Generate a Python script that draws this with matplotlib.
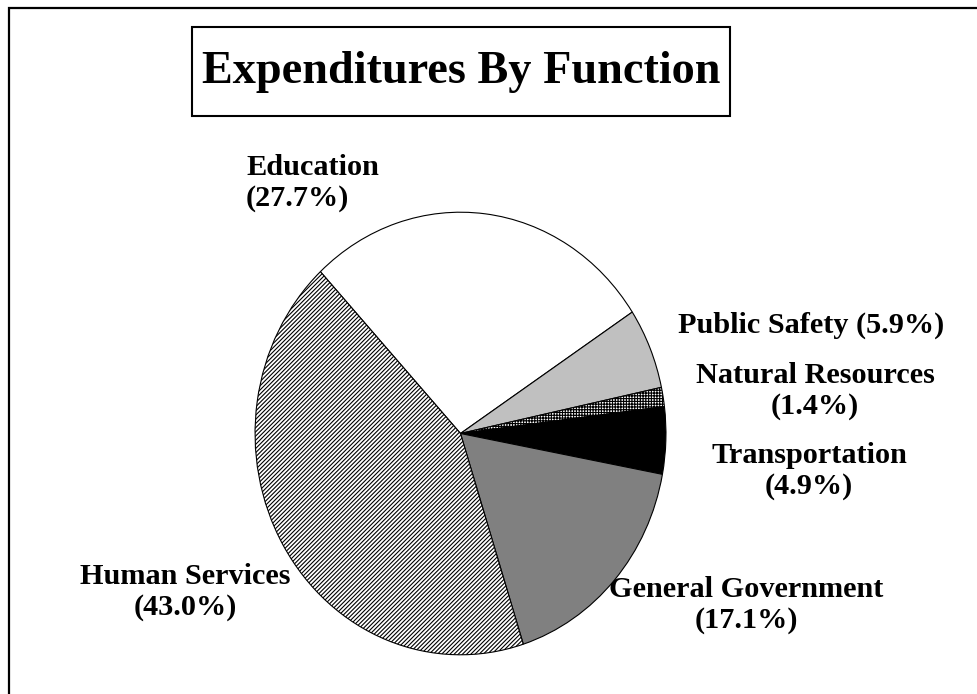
import matplotlib
matplotlib.use("Agg")
import matplotlib.pyplot as plt
from matplotlib.patches import Rectangle

plt.rcParams["font.family"] = ["Liberation Serif", "DejaVu Serif"]
plt.rcParams["hatch.linewidth"] = 0.8

W, H = 977, 694

# data (clockwise from upper left)
categories = ["Education", "Public Safety", "Natural Resources",
              "Transportation", "General Government", "Human Services"]
shares = [27.7, 5.9, 1.4, 4.9, 17.1, 43.0]
fills = ["white", "#c0c0c0", "white", "black", "#808080", "white"]
hatches = [None, None, "++++++", None, None, "////////"]

fig = plt.figure(figsize=(W / 100, H / 100), dpi=100)

# overlay axes in pixel coordinates (y down)
bg = fig.add_axes([0, 0, 1, 1])
bg.set_xlim(0, W)
bg.set_ylim(H, 0)
bg.axis("off")


def px_box(x0, y0, x1, y1):
    return [x0 / W, 1 - y1 / H, (x1 - x0) / W, (y1 - y0) / H]


# pie axes, slightly taller than wide like the original
pax = fig.add_axes(px_box(253, 210, 668, 657))
wedges, _ = pax.pie(shares, colors=fills, startangle=133, counterclock=False,
                    radius=1.0,
                    wedgeprops=dict(edgecolor="black", linewidth=0.8))
for w, h in zip(wedges, hatches):
    if h:
        w.set_hatch(h)
pax.set_aspect("auto")
pax.set_xlim(-1.01, 1.01)
pax.set_ylim(-1.01, 1.01)
pax.axis("off")

# outer frame (runs off right/bottom)
bg.plot([8.5, 8.5, W + 5], [H + 5, 7.5, 7.5], color="black", lw=1.6,
        solid_joinstyle="miter", clip_on=False)

# title box
bg.add_patch(Rectangle((192, 27), 538, 89, fill=False, edgecolor="black", lw=1.5))
bg.text(461, 72, "Expenditures By Function", ha="center", va="center",
        fontsize=33.3, fontweight="bold")

lab = dict(fontsize=21.8, fontweight="bold", linespacing=1.2)
labels = [f"{c}\n({s:.1f}%)" for c, s in zip(categories, shares)]
bg.text(246, 183, labels[0], ha="left", va="center", **lab)
bg.text(811, 325, f"{categories[1]} ({shares[1]:.1f}%)", ha="center", va="center", **lab)
bg.text(815, 391, labels[2], ha="center", va="center", **lab)
bg.text(809, 471, labels[3], ha="center", va="center", **lab)
bg.text(746, 605, labels[4], ha="center", va="center", **lab)
bg.text(185, 592, labels[5], ha="center", va="center", **lab)

fig.savefig("out.png", dpi=100)
